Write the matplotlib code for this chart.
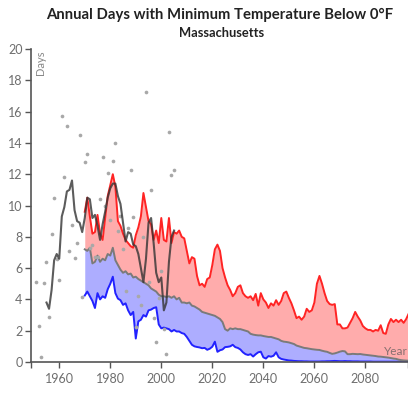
import matplotlib
matplotlib.use('Agg')
import matplotlib.pyplot as plt

# ---------------- data ----------------
obs_years = list(range(1951, 2006))
obs_values = [5.1, 2.27, 0.34, 5.03, 6.42, 2.9, 8.15, 10.45, 6.6, 5.25,
              15.75, 11.8, 15.05, 7.1, 8.74, 6.64, 7.6, 14.5, 4.17, 12.77,
              13.3, 7.26, 7.5, 6.7, 6.7, 10.4, 13.1, 10.0, 12.05, 9.1,
              12.84, 13.97, 8.4, 9.35, 7.22, 4.54, 8.56, 12.27, 9.29, 2.26,
              4.24, 3.64, 8.0, 17.23, 5.13, 10.99, 2.79, 1.3, 4.07, 5.8,
              2.09, 0.51, 14.72, 11.97, 12.25]

avg_years = list(range(1955, 2006))
avg_values = [3.8, 3.4, 4.6, 6.5, 6.9, 6.6, 9.3, 9.9, 10.9, 11.0,
              11.6, 9.7, 9.0, 8.9, 8.3, 9.2, 10.5, 10.4, 9.2, 9.4,
              8.7, 7.8, 8.8, 9.6, 10.5, 11.1, 11.4, 11.4, 10.6, 10.1,
              8.9, 7.7, 8.3, 8.2, 7.5, 7.4, 6.9, 6.0, 5.1, 6.6,
              8.9, 9.2, 7.6, 5.7, 5.1, 5.4, 3.3, 3.8, 6.4, 8.0, 8.4]

model_years = list(range(1970, 2100))
model_high = [9.6, 10.5, 9.3, 8.2, 8.3, 9.4, 8.2, 7.8, 9.2, 10.6,
              11.3, 12.0, 11.2, 9.0, 8.7, 8.2, 7.8, 7.6, 7.4, 7.3,
              8.1, 8.6, 9.3, 10.8, 9.9, 9.0, 8.8, 7.8, 8.4, 7.6,
              9.2, 7.8, 7.7, 9.2, 7.6, 8.3, 8.2, 8.4, 8.0, 7.9,
              7.1, 6.3, 6.7, 6.6, 5.5, 4.9, 5.0, 4.8, 5.3, 5.4,
              6.2, 7.2, 7.5, 7.1, 6.0, 5.4, 4.9, 4.6, 4.2, 4.4,
              4.8, 4.9, 4.4, 4.2, 4.1, 4.2, 3.95, 4.35, 3.6, 4.4,
              4.0, 3.8, 3.45, 3.75, 3.6, 3.95, 3.65, 3.9, 4.4, 4.5,
              4.1, 3.75, 3.3, 2.8, 2.9, 2.7, 2.9, 3.4, 3.2, 3.3,
              3.8, 5.0, 5.5, 5.0, 4.4, 3.9, 3.7, 3.65, 3.7, 2.4,
              2.4, 2.15, 2.15, 2.2, 2.5, 2.8, 3.2, 2.9, 2.65, 2.3,
              2.15, 2.05, 2.05, 1.95, 2.05, 2.0, 2.35, 1.85, 1.8, 2.4,
              2.75, 2.55, 2.7, 2.55, 2.7, 2.5, 2.75, 3.1, 3.0, 3.1]
model_median = [7.2, 7.1, 7.3, 6.3, 6.4, 6.8, 6.4, 6.6, 6.5, 6.9,
                6.8, 7.3, 6.5, 6.2, 5.9, 5.7, 5.8, 5.6, 5.65, 5.4,
                5.45, 5.3, 5.2, 5.1, 5.0, 4.9, 4.7, 4.6, 4.5, 4.3,
                4.2, 4.2, 4.15, 4.2, 4.1, 4.2, 4.0, 4.1, 3.8, 3.8,
                3.75, 3.8, 3.6, 3.55, 3.45, 3.35, 3.2, 3.15, 3.1, 3.05,
                3.0, 2.95, 2.85, 2.75, 2.55, 2.1, 2.0, 2.15, 2.1, 2.15,
                2.1, 2.1, 2.05, 2.0, 1.95, 1.8, 1.75, 1.72, 1.7, 1.7,
                1.66, 1.63, 1.6, 1.6, 1.55, 1.5, 1.45, 1.35, 1.3, 1.28,
                1.25, 1.2, 1.15, 1.05, 1.0, 0.95, 0.9, 0.88, 0.85, 0.82,
                0.8, 0.78, 0.77, 0.72, 0.68, 0.65, 0.58, 0.52, 0.55, 0.6,
                0.66, 0.7, 0.68, 0.5, 0.5, 0.52, 0.51, 0.5, 0.51, 0.48,
                0.46, 0.44, 0.42, 0.4, 0.38, 0.35, 0.34, 0.32, 0.3, 0.28,
                0.25, 0.22, 0.2, 0.15, 0.12, 0.1, 0.09, 0.08, 0.08, 0.07]
model_low = [4.25, 4.5, 4.2, 3.9, 3.45, 4.4, 4.0, 4.2, 4.1, 4.65,
             5.0, 5.45, 4.4, 4.05, 3.95, 3.65, 3.75, 3.3, 3.0, 3.2,
             1.5, 2.6, 2.7, 3.0, 2.9, 3.3, 3.35, 3.45, 3.5, 2.4,
             2.15, 2.2, 2.15, 2.1, 1.95, 2.05, 1.95, 1.95, 1.85, 1.8,
             1.6, 1.35, 1.1, 1.0, 0.96, 0.93, 0.88, 0.9, 0.78, 0.85,
             0.98, 1.3, 0.65, 0.75, 0.8, 0.95, 0.97, 1.0, 1.1, 0.95,
             0.9, 0.8, 0.62, 0.5, 0.45, 0.5, 0.35, 0.5, 0.62, 0.66,
             0.3, 0.22, 0.38, 0.34, 0.4, 0.62, 0.3, 0.2, 0.16, 0.13,
             0.1, 0.09, 0.07, 0.06, 0.05, 0.05, 0.04, 0.04, 0.03, 0.03,
             0.03, 0.03, 0.03, 0.04, 0.04, 0.05, 0.05, 0.06, 0.07, 0.06,
             0.05, 0.05, 0.06, 0.05, 0.05, 0.04, 0.04, 0.04, 0.03, 0.03,
             0.03, 0.03, 0.03, 0.02, 0.02, 0.02, 0.02, 0.02, 0.02, 0.02,
             0.02, 0.02, 0.02, 0.02, 0.02, 0.01, 0.01, 0.01, 0.01, 0.01]

x_ticks = [1960, 1980, 2000, 2020, 2040, 2060, 2080]
y_ticks = [0, 2, 4, 6, 8, 10, 12, 14, 16, 18, 20]

title = "Annual Days with Minimum Temperature Below 0°F"
subtitle = "Massachusetts"

assert len(obs_values) == len(obs_years)
assert len(avg_values) == len(avg_years)
assert len(model_high) == len(model_years)
assert len(model_median) == len(model_years)
assert len(model_low) == len(model_years)

# ---------------- figure ----------------
plt.rcParams['font.family'] = ['Lato', 'DejaVu Sans']
W, H = 408, 419
fig = plt.figure(figsize=(W / 100, H / 100), dpi=100)
ax = fig.add_axes([31 / W, 57 / H, 377 / W, 313 / H])

ax.fill_between(model_years, model_median, model_high, color='#ffacac', lw=0, zorder=1)
ax.fill_between(model_years, model_low, model_median, color='#adadff', lw=0, zorder=1)
ax.plot(model_years, model_high, color='#ff2424', lw=1.4, zorder=2)
ax.plot(model_years, model_low, color='#2222ff', lw=1.4, zorder=2)
ax.plot(model_years, model_median, color='#7a7a7a', lw=1.4, zorder=2)

ax.scatter(obs_years, obs_values, s=7, color='#a8a8a8', lw=0, zorder=3)
ax.plot(avg_years, avg_values, color='#333333', lw=1.5, alpha=0.8, zorder=4)

ax.set_xlim(1948.93, 2096.7)
ax.set_ylim(0, 20)
ax.set_xticks(x_ticks)
ax.set_yticks(y_ticks)
ax.set_xticks([1948.93, 2096.7], minor=True)

for s in ['top', 'right']:
    ax.spines[s].set_visible(False)
for s in ['left', 'bottom']:
    ax.spines[s].set_color('#555555')
    ax.spines[s].set_linewidth(1.2)

ax.tick_params(axis='both', which='major', colors='#555555', labelcolor='#6e6e6e',
               labelsize=9, length=4, width=1.0)
ax.tick_params(axis='x', which='minor', colors='#555555', length=4, width=1.0)
ax.tick_params(axis='y', pad=2)
ax.tick_params(axis='x', pad=4)

ax.text(1952.6, 19.9, 'Days', rotation=90, ha='center', va='top',
        fontsize=8, color='#555555', alpha=0.7)
ax.text(2096.5, 0.35, 'Year', ha='right', va='bottom',
        fontsize=8.5, color='#555555', alpha=0.7)

fig.text(220 / W, 1 - 15 / H, title, ha='center', va='center',
         fontsize=10.7, fontweight='bold', color='#222222')
fig.text(222 / W, 1 - 33 / H, subtitle, ha='center', va='center',
         fontsize=9.3, fontweight='bold', color='#222222')

fig.savefig('out.png', dpi=100)
